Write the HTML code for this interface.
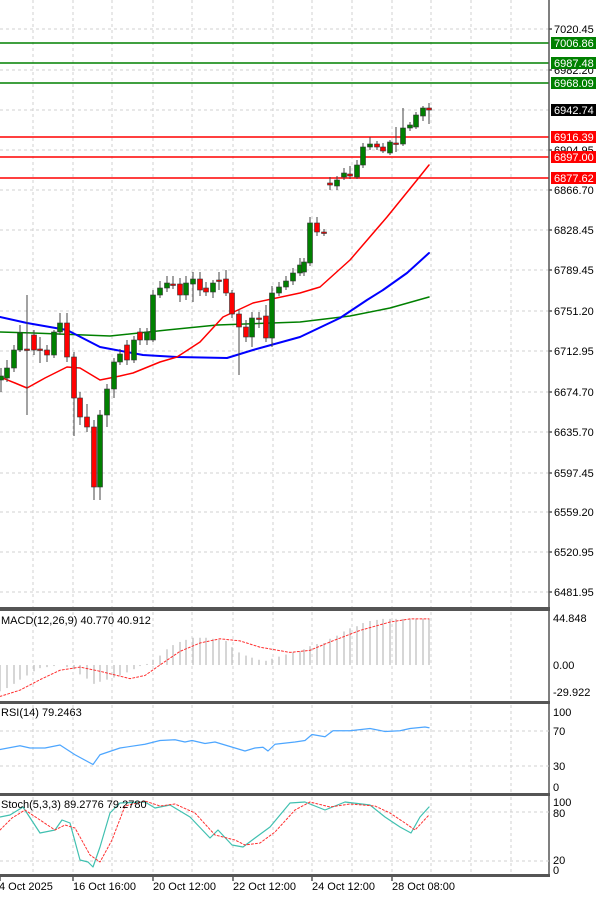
<!DOCTYPE html>
<html><head><meta charset="utf-8"><style>
body{margin:0;background:#fff}
svg{display:block;font-family:"Liberation Sans",sans-serif}
</style></head><body>
<svg id="s" width="600" height="897" xmlns="http://www.w3.org/2000/svg"></svg>
<script>
const S=document.getElementById('s');let h='';
const A=549;
function L(x1,y1,x2,y2,c,w,d){h+=`<line x1="${x1}" y1="${y1}" x2="${x2}" y2="${y2}" stroke="${c}" stroke-width="${w||1}"${d?` stroke-dasharray="${d}"`:''}/>`;}
function T(x,y,t,c,sz,anc){h+=`<text x="${x}" y="${y}" font-size="${sz||11}" fill="${c||'#000'}"${anc?` text-anchor="${anc}"`:''}>${t}</text>`;}
function P(pts,c,w,d){h+=`<polyline fill="none" stroke-linejoin="round" stroke-linecap="round" points="${pts.map(p=>p.join(',')).join(' ')}" stroke="${c}" stroke-width="${w||1}"${d?` stroke-dasharray="${d}"`:''}/>`;}
const vg=[33,73,112,153,192,233,273,312,352,392,431,471,511];
const hl=[29,70,110,150,190,230,270,311,351,392,432,473,512,552,592];
hl.forEach(y=>L(0,y,A,y,'#d0d0d0',1,'3,3'));
function vgrid(y1,y2){vg.forEach(x=>L(x,y1,x,y2,'#d0d0d0',1,'3,3'));}
vgrid(0,607);
[[43,'7006.86','#008000'],[63,'6987.48','#008000'],[83,'6968.09','#008000'],[137,'6916.39','#ff0000'],[157,'6897.00','#ff0000'],[178,'6877.62','#ff0000']].forEach(l=>L(0,l[0],A,l[0],l[2],1.5));
P([[0,332],[33,333],[110,336],[167,330],[217,325],[300,322],[350,316],[390,308],[429,297]],'#008000',1.5);
P([[0,317],[27,323],[67,330],[100,347],[143,355],[177,357],[227,358],[253,350],[300,337],[340,318],[367,300],[383,290],[407,273],[429,253]],'#0000ff',2);
P([[0,377],[15,383],[27,388],[45,378],[67,367],[80,368],[100,380],[120,376],[133,373],[160,362],[177,357],[200,342],[223,317],[253,303],[300,293],[320,287],[350,260],[387,217],[417,180],[429,165]],'#ff0000',1.5);
const C=[[1,380,376,368,392],[7,378,368,360,382],[14,368,350,345,372],[20,350,333,325,352],[27,349,349,295,415],[34,335,350,330,355],[40,349,349,337,363],[47,350,355,345,362],[54,355,332,330,358],[60,332,323,313,335],[67,323,357,313,362],[74,357,398,352,436],[80,398,417,392,425],[87,417,427,404,432],[94,427,487,420,500],[100,487,415,410,500],[107,415,389,384,427],[114,389,362,358,398],[120,362,354,349,365],[127,345,360,340,365],[134,360,340,336,363],[140,332,340,328,345],[147,340,332,328,345],[153,340,295,290,342],[160,295,288,281,298],[167,288,283,276,292],[173,284,284,276,289],[180,284,295,278,302],[186,295,283,276,300],[193,284,279,272,302],[200,279,290,272,296],[206,288,292,282,296],[213,292,283,280,298],[219,280,280,272,290],[226,279,293,270,296],[232,293,314,290,318],[239,314,327,310,375],[246,327,337,320,342],[252,337,318,312,347],[259,318,318,312,328],[266,316,338,305,342],[272,338,293,286,347],[279,293,287,282,296],[286,287,281,276,290],[293,281,273,268,285],[300,273,265,258,276],[304,272,262,258,276],[310,263,223,217,266],[317,223,232,217,236],[324,232,233,229,236],[330,183,185,177,190],[337,186,180,176,190],[344,177,173,168,180],[350,174,176,166,179],[357,177,165,160,179],[363,165,147,143,168],[370,147,144,137,150],[377,144,147,141,150],[383,147,151,143,153],[390,153,142,140,155],[396,143,144,127,152],[403,144,128,108,146],[410,128,125,122,131],[416,127,115,112,129],[423,116,108,106,121],[429,108,110,103,124]];
C.forEach(c=>{const[x,o,cl,hi,lo]=c;L(x,hi,x,lo,'#444',1);const up=cl<o;const t=Math.min(o,cl),b=Math.max(o,cl);
h+=`<rect x="${x-2.5}" y="${t}" width="5" height="${Math.max(b-t,1.5)}" fill="${up?'#008000':'#ff0000'}" stroke="#333" stroke-width="0.6"/>`;});
[[29,'7020.45'],[70,'6982.20'],[150,'6904.95'],[190,'6866.70'],[230,'6828.45'],[270,'6789.45'],[311,'6751.20'],[351,'6712.95'],[392,'6674.70'],[432,'6635.70'],[473,'6597.45'],[512,'6559.20'],[552,'6520.95'],[592,'6481.95']].forEach(a=>{L(A,a[0],A+3,a[0],'#000');T(554,a[0]+4,a[1]);});
[[43,'7006.86','#008000'],[63,'6987.48','#008000'],[83,'6968.09','#008000'],[110,'6942.74','#000'],[137,'6916.39','#ff0000'],[157,'6897.00','#ff0000'],[178,'6877.62','#ff0000']].forEach(l=>{h+=`<rect x="551" y="${l[0]-6}" width="45" height="12" fill="${l[2]}"/>`;T(554,l[0]+4,l[1],'#fff');});
[[607,611],[701,704],[793,796],[874,877]].forEach(s=>{h+=`<rect x="0" y="${s[0]}" width="${A+1}" height="${s[1]-s[0]}" fill="#555"/>`;});
L(A,0,A,877,'#555',1.5);
vgrid(612,700);
const my=v=>665-1.048*v;
const hist=[[0,-25],[7,-22],[14,-18],[20,-14],[27,-10],[34,-6],[40,-3],[47,-2],[54,-1],[60,0],[67,-2],[74,-4],[80,-9],[87,-13],[94,-18],[100,-16],[107,-14],[114,-12],[120,-10],[127,-7],[134,-4],[140,-1],[147,1],[153,5],[160,9],[167,15],[173,19],[180,22],[186,24],[193,26],[200,26],[206,26],[213,25],[219,24],[226,23],[232,17],[239,12],[246,9],[252,7],[259,5],[266,4],[272,6],[279,8],[286,10],[293,12],[300,13],[304,15],[310,18],[317,20],[324,21],[330,25],[337,28],[344,32],[350,35],[357,37],[363,40],[370,42],[377,43],[383,44],[390,44],[396,44],[403,44],[410,44],[416,44],[423,44],[429,44]];
hist.forEach(b=>L(b[0],my(0),b[0],my(b[1]),'#c8c8c8',1.5));
P([[0,-30],[20,-24],[40,-14],[60,-5],[80,-2],[100,-6],[130,-13],[145,-10],[160,0],[180,13],[200,21],[220,25],[240,23],[260,17],[290,12],[310,14],[330,22],[360,33],[390,41],[410,44],[429,44]].map(p=>[p[0],my(p[1])]),'#ff3030',1,'2,2');
T(1,624,'MACD(12,26,9) 40.770 40.912','#000',11);
T(553,622,'44.848');T(553,669,'0.00');T(553,696,'-29.922');
vgrid(705,792);
const ry=v=>787-0.75*v;
[731,766].forEach(y=>L(0,y,A,y,'#d0d0d0',1,'3,3'));
P([[0,50],[20,55],[30,52],[45,52],[60,56],[75,43],[93,30],[100,43],[120,52],[145,57],[160,62],[175,63],[185,60],[192,62],[205,58],[215,60],[235,52],[245,48],[255,52],[263,53],[268,48],[275,57],[295,60],[305,62],[312,70],[325,67],[333,75],[350,75],[370,78],[385,74],[400,75],[410,78],[425,80],[429,79]].map(p=>[p[0],ry(p[1])]),'#4da6ff',1.2);
T(1,716,'RSI(14) 79.2463','#000',11);
T(553,716,'100');T(553,735,'70');T(553,770,'30');T(553,791,'0');
vgrid(797,874);
[812,861].forEach(y=>L(0,y,A,y,'#d0d0d0',1,'3,3'));
P([[0,817],[10,815],[23,807],[40,833],[55,830],[62,820],[70,823],[80,860],[88,862],[93,867],[100,847],[110,813],[120,803],[145,802],[155,808],[170,805],[190,817],[210,838],[218,830],[232,845],[243,847],[255,838],[270,827],[290,803],[305,802],[325,810],[345,802],[370,805],[385,817],[400,827],[411,833],[420,817],[429,807]],'#40c0b0',1.2);
P([[0,830],[12,818],[25,810],[40,820],[55,830],[65,825],[75,828],[90,855],[100,862],[112,840],[125,806],[145,801],[160,806],[175,804],[195,813],[215,835],[235,840],[245,845],[260,843],[275,832],[295,810],[310,802],[330,807],[350,804],[375,806],[390,813],[405,823],[415,830],[429,815]],'#ff3030',1,'2,2');
T(1,808,'Stoch(5,3,3) 89.2776 79.2780','#000',11);
T(553,806,'100');T(553,817,'80');T(553,864,'20');T(553,874,'0');
[[-1,'4 Oct 2025'],[73,'16 Oct 16:00'],[153,'20 Oct 12:00'],[233,'22 Oct 12:00'],[312,'24 Oct 12:00'],[392,'28 Oct 08:00']].forEach(d=>{const x=Math.max(d[0],0);L(x,877,x,881,'#000');T(d[0],890,d[1],'#000',11);});
S.innerHTML=h;
</script>
</body></html>
